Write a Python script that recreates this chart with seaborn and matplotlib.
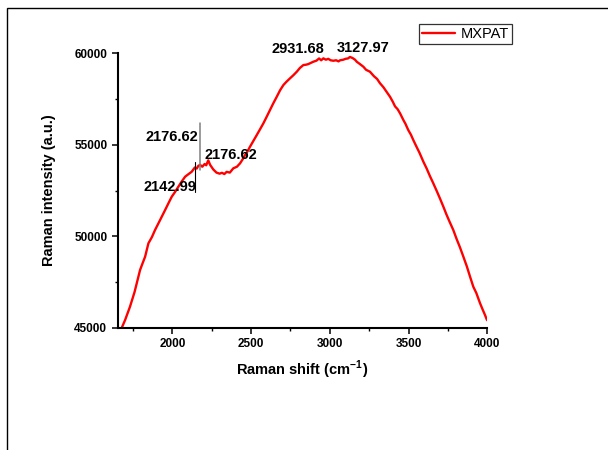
import matplotlib
matplotlib.use("Agg")
import matplotlib.pyplot as plt
import seaborn as sns
import pandas as pd
from matplotlib.patches import Rectangle
from matplotlib.ticker import MultipleLocator

# Raman spectrum of MXPAT
shift = [1670, 1679, 1700, 1731, 1760, 1795, 1810, 1827, 1848, 1870, 1890, 1920,
         1954, 1975, 1996, 2017, 2038, 2060, 2081, 2100, 2123, 2142.99, 2155, 2165,
         2176.62, 2190, 2205, 2215, 2228, 2240, 2260, 2280, 2300, 2315, 2330, 2345,
         2365, 2387, 2410, 2430, 2446, 2462, 2478, 2493, 2515, 2536, 2557, 2578,
         2600, 2620, 2640, 2663, 2684, 2705, 2725, 2747, 2768, 2790, 2810, 2832,
         2850, 2864, 2880, 2895, 2915, 2931.68, 2945, 2959, 2975, 2990, 3005, 3022,
         3040, 3055, 3065, 3085, 3100, 3115, 3127.97, 3145, 3160, 3171, 3190, 3213,
         3230, 3255, 3280, 3300, 3319, 3340, 3360, 3382, 3400, 3414, 3430, 3446,
         3467, 3480, 3498, 3515, 3530, 3550, 3570, 3594, 3615, 3635, 3657, 3680,
         3700, 3721, 3740, 3760, 3784, 3805, 3826, 3848, 3870, 3890, 3911, 3930,
         3954, 3970, 3985, 3996, 4000]
intensity = [44700, 45000, 45420, 46148, 46950, 48154, 48500, 48881, 49613, 49950, 50340, 50850,
             51433, 51800, 52160, 52420, 52707, 53000, 53254, 53380, 53527, 53760, 53700, 53850,
             53900, 53800, 53950, 53880, 54150, 53900, 53650, 53480, 53420, 53470, 53400, 53520,
             53480, 53713, 53800, 53986, 54200, 54440, 54650, 54893, 55220, 55533, 55850, 56172,
             56550, 56900, 57250, 57627, 57980, 58266, 58450, 58632, 58800, 58993, 59200, 59359,
             59380, 59414, 59480, 59540, 59600, 59720, 59620, 59726, 59650, 59700, 59620, 59594,
             59620, 59560, 59620, 59650, 59700, 59720, 59800, 59740, 59650, 59540, 59420, 59267,
             59100, 58993, 58750, 58600, 58359, 58150, 57900, 57627, 57350, 57100, 56950, 56719,
             56353, 56150, 55806, 55550, 55260, 54900, 54550, 54074, 53700, 53300, 52893, 52450,
             52050, 51614, 51200, 50800, 50340, 49850, 49400, 48881, 48350, 47800, 47241, 46900,
             46334, 46000, 45700, 45459, 45400]

# peak labels: text, label anchor (data coords)
peak_text = ["2931.68", "3127.97", "2176.62", "2176.62", "2142.99"]
peak_text_x = [2798, 3211, 1998, 2369, 1985]
peak_text_y = [60234, 60289, 55424, 54440, 52691]

x_ticks = [2000, 2500, 3000, 3500, 4000]
y_ticks = [45000, 50000, 55000, 60000]

df = pd.DataFrame({"shift": shift, "intensity": intensity})

sns.set_style("ticks")
plt.rcParams["font.family"] = ["Liberation Sans", "DejaVu Sans"]
plt.rcParams["mathtext.fontset"] = "custom"
plt.rcParams["mathtext.rm"] = "Liberation Sans"
plt.rcParams["mathtext.bf"] = "Liberation Sans:bold"
for key in ["text.color", "axes.labelcolor", "xtick.color", "ytick.color", "axes.edgecolor"]:
    plt.rcParams[key] = "black"

fig = plt.figure(figsize=(6.08, 4.5), dpi=100)
ax = fig.add_axes([0.1936, 0.2718, 0.6079, 0.6097])

# outer page frame
fig.patches.append(Rectangle((0.011, -0.2), 1.2, 0.2 + 0.9816, transform=fig.transFigure,
                             fill=False, edgecolor="black", linewidth=1.0, zorder=0))

sns.lineplot(data=df, x="shift", y="intensity", ax=ax, color="#ff0000",
             linewidth=1.7, label="MXPAT", sort=False, estimator=None)

ax.set_xlim(1653, 4000)
ax.set_ylim(45000, 60000)
ax.set_xticks(x_ticks)
ax.set_yticks(y_ticks)
ax.xaxis.set_minor_locator(MultipleLocator(250))
ax.yaxis.set_minor_locator(MultipleLocator(2500))
ax.tick_params(which="major", direction="out", length=4.5, width=1.1, pad=3)
ax.tick_params(which="minor", direction="out", length=2.5, width=1.0)
for lab in ax.get_xticklabels() + ax.get_yticklabels():
    lab.set_fontweight("bold")
    lab.set_fontsize(8.5)

for side in ["top", "right"]:
    ax.spines[side].set_visible(False)
for side in ["left", "bottom"]:
    ax.spines[side].set_linewidth(1.5)

ax.set_xlabel(r"Raman shift (cm$^{\mathbf{-1}}$)", fontsize=10.5, fontweight="bold", labelpad=6)
ax.set_ylabel("Raman intensity (a.u.)", fontsize=10.5, fontweight="bold", labelpad=13)

for t, tx, ty in zip(peak_text, peak_text_x, peak_text_y):
    ax.text(tx, ty, t, ha="center", va="center", fontsize=10.5, fontweight="bold",
            clip_on=False)

# leader lines for the shoulder peaks
ax.plot([2176.62, 2176.62], [53620, 56205], color="#808080", linewidth=1.1, clip_on=False)
ax.plot([2142.99, 2142.99], [52434, 54057], color="black", linewidth=0.8, clip_on=False)

leg = ax.legend(loc="upper left", bbox_to_anchor=(419 / 608, 1 - 24 / 450),
                bbox_transform=fig.transFigure, borderaxespad=0, fancybox=False,
                frameon=True, edgecolor="black", fontsize=10.5, handlelength=2.3,
                handletextpad=0.35, borderpad=0.2)
leg.get_frame().set_linewidth(0.9)

fig.savefig("out.png", dpi=100)
